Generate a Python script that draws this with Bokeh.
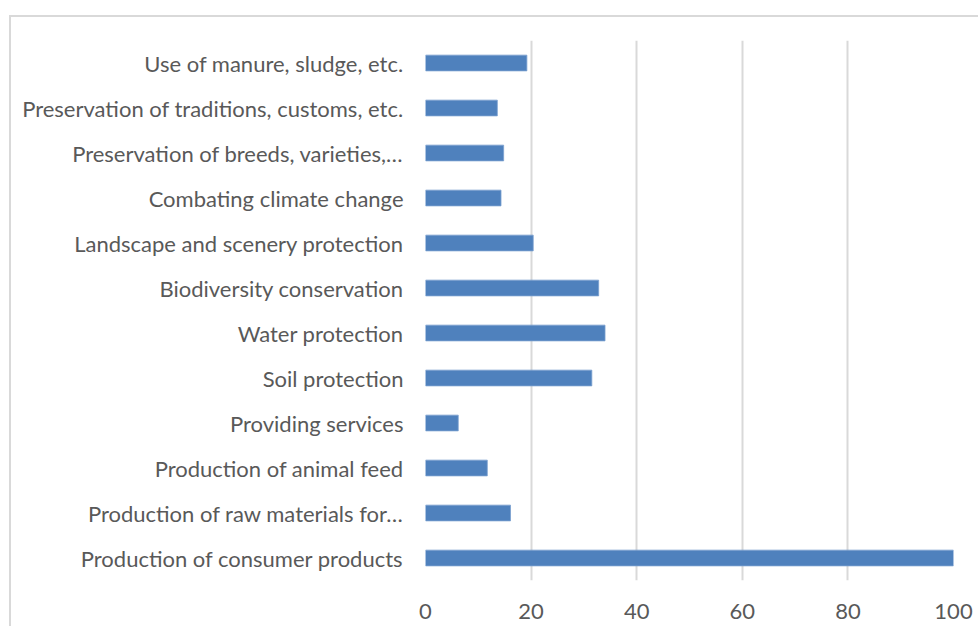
from bokeh.plotting import figure
from bokeh.models import FactorRange, Range1d, FixedTicker
from bokeh.embed import file_html
from bokeh.resources import INLINE

# Functions of the farm, listed bottom to top
categories = [
    "Production of consumer products",
    "Production of raw materials for…",
    "Production of animal feed",
    "Providing services",
    "Soil protection",
    "Water protection",
    "Biodiversity conservation",
    "Landscape and scenery protection",
    "Combating climate change",
    "Preservation of breeds, varieties,…",
    "Preservation of traditions, customs, etc.",
    "Use of manure, sludge, etc.",
]
values = [100, 16.1, 11.7, 6.2, 31.5, 34.0, 32.8, 20.4, 14.3, 14.8, 13.6, 19.2]
x_ticks = [0, 20, 40, 60, 80, 100]

FONT = "Lato"
TEXT = "#595959"
GRID = "#d9d9d9"

p = figure(
    width=969, height=615,
    y_range=FactorRange(factors=categories, range_padding=0),
    x_range=Range1d(0, 100),
    output_backend="svg", toolbar_location=None,
    min_border_left=414, min_border_right=27,
    min_border_top=23, min_border_bottom=52,
    margin=(15, 0, 0, 9),
    styles={"border-top": "2px solid #d9d9d9", "border-left": "2px solid #d9d9d9"},
)

p.hbar(y=categories, right=values, left=0, height=0.35,
       fill_color="#4f81bd", line_color="#7a9fcf", line_width=0.8)

p.outline_line_color = None
p.ygrid.grid_line_color = None
p.xgrid.grid_line_color = GRID
p.xgrid.grid_line_width = 2
p.xaxis.ticker = FixedTicker(ticks=x_ticks)

for ax in (p.xaxis, p.yaxis):
    ax.axis_line_color = None
    ax.major_tick_line_color = None
    ax.minor_tick_line_color = None
    ax.major_tick_out = 0
    ax.major_tick_in = 0
    ax.major_label_text_font = FONT
    ax.major_label_text_font_size = "22px"
    ax.major_label_text_color = TEXT

p.yaxis.major_label_standoff = 22
p.xaxis.major_label_standoff = 23

open("out.html", "w").write(file_html(p, INLINE))
